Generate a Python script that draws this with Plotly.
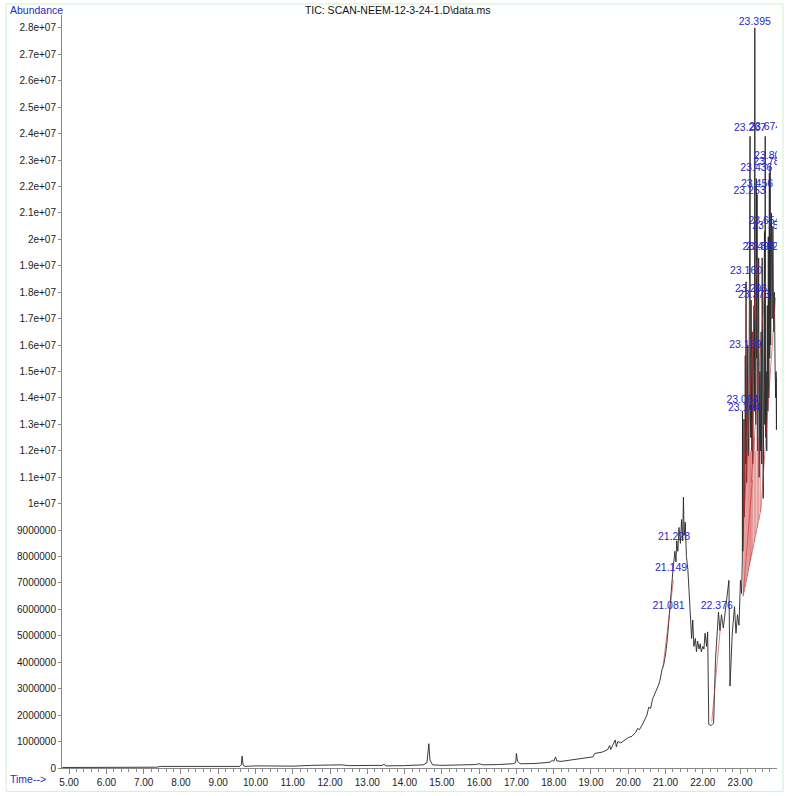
import plotly.graph_objects as go

# chromatogram (time in min, abundance in millions)
tic_time = [
    4.82, 5.5, 6.5, 7.35, 7.45, 8.0, 8.6, 9.2, 9.58, 9.62, 9.64, 9.67, 9.72,
    10.0, 10.5, 11.0, 11.5, 12.0, 12.3, 12.5, 13.0, 13.4, 13.45, 13.5, 14.0,
    14.5, 14.6, 14.65, 14.68, 14.75, 15.0, 15.5, 15.9, 16.0, 16.1, 16.5, 16.9,
    16.98, 17.0, 17.03, 17.1, 17.5, 17.9, 17.97, 18.0, 18.05, 18.08, 18.2, 18.5,
    18.9, 19.05, 19.1, 19.3, 19.45, 19.5, 19.53, 19.6, 19.65, 19.68, 19.72, 19.8,
    19.9, 20.0, 20.1, 20.2, 20.25, 20.3, 20.4, 20.5, 20.55, 20.6, 20.65, 20.7,
    20.8, 20.85, 20.9, 20.95, 21.0, 21.05, 21.1, 21.15, 21.2, 21.25, 21.28, 21.3,
    21.33, 21.36, 21.4, 21.43, 21.46, 21.48, 21.5, 21.53, 21.56, 21.6, 21.63,
    21.67, 21.7, 21.73, 21.76, 21.8, 21.83, 21.86, 21.9, 21.93, 21.96, 22.0,
    22.03, 22.06, 22.1, 22.13, 22.14, 22.16, 22.22, 22.29, 22.34, 22.38, 22.42,
    22.46, 22.5, 22.55, 22.6, 22.65, 22.7, 22.73, 22.76, 22.79, 22.85, 22.89,
    22.93, 22.97, 23.01, 23.04, 23.06, 23.064, 23.075, 23.09, 23.104, 23.115,
    23.13, 23.139, 23.148, 23.160, 23.175, 23.19, 23.205, 23.22, 23.24, 23.253,
    23.26, 23.267, 23.275, 23.285, 23.296, 23.31, 23.325, 23.34, 23.355, 23.373,
    23.385, 23.395, 23.405, 23.42, 23.436, 23.445, 23.456, 23.465, 23.48, 23.498,
    23.51, 23.53, 23.545, 23.565, 23.58, 23.592, 23.605, 23.62, 23.635, 23.654,
    23.662, 23.674, 23.685, 23.70, 23.715, 23.73, 23.745, 23.757, 23.77, 23.785,
    23.795, 23.806, 23.82, 23.84, 23.86, 23.88, 23.90, 23.92, 23.94, 23.955,
    23.965, 23.975, 23.985,
]
tic_abund = [
    0.02, 0.02, 0.03, 0.03, 0.06, 0.06, 0.05, 0.06, 0.06, 0.12, 0.45, 0.10, 0.06,
    0.08, 0.07, 0.07, 0.10, 0.10, 0.12, 0.09, 0.08, 0.10, 0.14, 0.08, 0.09,
    0.12, 0.20, 0.92, 0.30, 0.12, 0.10, 0.11, 0.13, 0.16, 0.12, 0.13, 0.16,
    0.20, 0.55, 0.25, 0.16, 0.17, 0.22, 0.30, 0.25, 0.42, 0.27, 0.25, 0.30,
    0.38, 0.42, 0.55, 0.60, 0.70, 0.85, 0.70, 0.90, 1.06, 0.80, 1.00, 0.95,
    1.05, 1.15, 1.20, 1.35, 1.50, 1.45, 1.70, 2.00, 2.30, 2.25, 2.60, 2.75,
    3.10, 3.30, 3.70, 3.90, 4.30, 4.90, 5.90, 6.80, 7.50, 8.20, 7.80, 8.60,
    8.20, 9.10, 8.50, 9.40, 8.60, 10.25, 8.80, 9.30, 8.00, 7.50, 6.60,
    5.50, 4.90, 5.60, 4.60, 4.90, 4.40, 4.80, 4.50, 4.70, 4.40, 4.60,
    4.50, 5.10, 4.60, 5.15, 2.95, 1.65, 1.60, 1.70, 4.10, 4.96, 5.90,
    5.20, 5.80, 5.30, 5.90, 6.70, 7.10, 3.10, 4.20, 5.10, 6.10, 5.10,
    5.80, 5.40, 7.10, 6.60, 7.90, 13.5, 8.20, 9.00, 13.2, 9.50,
    11.0, 15.6, 11.5, 18.4, 10.8, 12.5, 16.0, 11.8, 14.0, 21.4,
    15.5, 23.9, 14.0, 12.5, 17.7, 12.0, 16.5, 11.5, 15.0, 17.5,
    13.5, 28.0, 14.5, 13.0, 22.3, 15.5, 21.7, 12.0, 14.0, 19.3,
    11.0, 15.0, 12.0, 16.5, 11.5, 19.3, 12.5, 10.2, 14.5, 20.3,
    13.0, 23.9, 12.5, 15.0, 12.0, 17.5, 13.5, 20.1, 14.0, 22.5,
    15.5, 22.8, 16.0, 21.0, 17.0, 20.5, 16.5, 18.0, 15.0, 14.0,
    15.0, 12.8, 14.8,
]

# integration baselines (red), start/end points
base_t0 = [20.93, 21.11, 22.24, 23.08, 23.08, 23.56, 23.10, 23.30]
base_v0 = [3.8, 5.9, 1.75, 6.5, 6.5, 9.8, 9.4, 10.8]
base_t1 = [21.11, 21.21, 22.47, 23.33, 23.56, 23.95, 23.45, 23.68]
base_v1 = [5.9, 7.1, 5.3, 10.9, 9.8, 17.8, 19.2, 18.5]

# peak drop lines (red)
drop_t = [23.10, 23.13, 23.16, 23.19, 23.22, 23.25, 23.28, 23.31, 23.34, 23.38, 23.42, 23.46, 23.50, 23.54]
drop_lo = [6.65, 6.85, 7.05, 7.25, 7.45, 7.65, 7.85, 8.05, 8.3, 8.55, 8.85, 9.1, 9.4, 9.7]
drop_hi = [12.0, 13.0, 17.5, 12.5, 12.0, 18.5, 12.0, 12.5, 16.5, 12.5, 12.0, 18.0, 12.5, 12.0]

# peak labels: retention time and label height (millions)
peak_rt = [
    "23.395", "23.267", "23.674", "23.806", "23.785", "23.436", "23.456",
    "23.253", "23.654", "23.757", "23.498", "23.592", "23.160", "23.296",
    "23.373", "23.139", "23.064", "23.104", "21.228", "21.149", "21.081", "22.376",
]
peak_label_y = [
    28.2, 24.2, 24.25, 23.15, 22.9, 22.7, 22.1,
    21.8, 20.7, 20.5, 19.7, 19.7, 18.8, 18.1,
    17.9, 16.0, 13.9, 13.6, 8.74, 7.57, 6.13, 6.13,
]

ytick_vals = [i * 1e6 for i in range(0, 29)]
ytick_text = [str(int(v)) if v < 1e7 else f"{v:g}" for v in ytick_vals]

BLUE = "rgb(40,40,205)"
FONT = "Liberation Sans, Arial, sans-serif"

red_x, red_y = [], []
for t0, v0, t1, v1 in zip(base_t0, base_v0, base_t1, base_v1):
    red_x += [t0, t1, None]
    red_y += [v0 * 1e6, v1 * 1e6, None]
for t, lo, hi in zip(drop_t, drop_lo, drop_hi):
    red_x += [t, t, None]
    red_y += [lo * 1e6, hi * 1e6, None]

fig = go.Figure()
fig.add_trace(go.Scatter(
    x=tic_time, y=[v * 1e6 for v in tic_abund], mode="lines",
    line=dict(color="#262626", width=0.9), hoverinfo="skip",
))
fig.add_trace(go.Scatter(
    x=red_x, y=red_y, mode="lines",
    line=dict(color="rgba(205,45,45,0.75)", width=0.8), hoverinfo="skip",
))
fig.add_trace(go.Scatter(
    x=[float(s) for s in peak_rt], y=[v * 1e6 for v in peak_label_y],
    mode="text", text=peak_rt, textposition="middle center",
    textfont=dict(family=FONT, size=10.5, color=BLUE), cliponaxis=True,
    hoverinfo="skip",
))

fig.update_layout(
    template="none",
    width=789, height=796,
    margin=dict(l=62, r=12, t=15, b=28, autoexpand=False),
    paper_bgcolor="white", plot_bgcolor="white",
    showlegend=False,
    font=dict(family=FONT, size=10, color="#222"),
    title=dict(
        text="TIC: SCAN-NEEM-12-3-24-1.D\\data.ms",
        x=0.504, xanchor="center", y=0.987, yanchor="middle",
        font=dict(family=FONT, size=10.5, color="#111"),
    ),
    xaxis=dict(
        range=[4.81, 23.99], tick0=5, dtick=1, tickformat=".2f",
        automargin=False, showgrid=False, zeroline=False,
        showline=True, linecolor="#888", linewidth=1,
        ticks="outside", ticklen=5, tickcolor="#888",
        minor=dict(dtick=0.2, ticks="outside", ticklen=3, tickcolor="#888", showgrid=False),
        tickfont=dict(size=10, color="#222"),
    ),
    yaxis=dict(
        range=[0, 28.49e6], tickvals=ytick_vals, ticktext=ytick_text,
        automargin=False, showgrid=False, zeroline=False,
        showline=True, linecolor="#888", linewidth=1,
        ticks="outside", ticklen=3, tickcolor="#888",
        tickfont=dict(size=10, color="#222"),
    ),
    annotations=[
        dict(text="Abundance", xref="paper", yref="paper", x=-0.0755, y=1.0066,
             xanchor="left", yanchor="middle", showarrow=False,
             font=dict(family=FONT, size=10.5, color=BLUE)),
        dict(text="Time-->", xref="paper", yref="paper", x=-0.0755, y=-0.0146,
             xanchor="left", yanchor="middle", showarrow=False,
             font=dict(family=FONT, size=10.5, color=BLUE)),
    ],
    shapes=[
        dict(type="rect", xref="paper", yref="paper",
             x0=-0.0783, x1=1.0084, y0=-0.031, y1=1.0146,
             line=dict(color="rgb(205,240,205)", width=1)),
    ],
)

# page body has a default 8px margin; drop it so the figure sits at the window corner
fig.write_html(
    "out.html",
    config={"displayModeBar": False},
    post_script="document.body.style.margin='0';",
)
